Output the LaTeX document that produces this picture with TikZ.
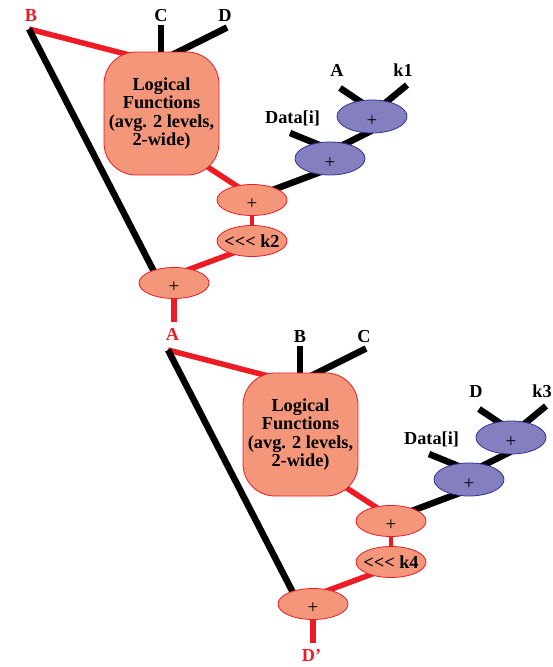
\documentclass[tikz,border=0pt]{standalone}
\usepackage{fontspec}
\setmainfont{Liberation Serif}
\usetikzlibrary{shapes.geometric,calc}
\pgfdeclarelayer{bg}
\pgfsetlayers{bg,main}

\definecolor{wirered}{RGB}{237,28,36}
\definecolor{salmon}{RGB}{244,150,122}
\definecolor{lavender}{RGB}{132,128,192}
\definecolor{navy}{RGB}{46,49,146}

\tikzset{
  lbl/.style={font=\fontsize{18.3}{18.5}\bfseries\selectfont, inner sep=0pt, anchor=base},
  redlbl/.style={lbl, text=wirered},
  redwire/.style={draw=wirered, line width=5.5pt},
  blackwire/.style={draw=black, line width=6.5pt},
  logicbox/.style={draw=wirered, fill=salmon, line width=0.8pt, rounded corners=32pt,
    minimum width=115pt, minimum height=123pt, align=center, inner sep=0pt,
    font=\fontsize{18.3}{18.4}\bfseries\selectfont},
  opshape/.style={ellipse, line width=0.8pt, minimum width=70pt, inner sep=0pt},
  redop/.style={opshape, draw=wirered, fill=salmon, minimum height=31pt},
  blueop/.style={opshape, draw=navy, fill=lavender, minimum height=33pt},
  % the "+" sits a little below the middle of its ellipse
  plusop/.style={label={[inner sep=0pt, yshift=-4.5pt, font=\fontsize{19}{19}\selectfont]center:+}},
}

% three separate "<" glyphs, no ligature
\newcommand\rotl{<\kern0pt<\kern0pt<}

% One round: #1 prefix, #2 shift, #3/#4 inputs of the logic block,
% #5/#6 inputs of the adders, #7 rotation amount, #8 output name
\newcommand\roundstage[8]{%
  \begin{scope}[shift={#2}]
    \node[logicbox] (#1-lf) at (161.5,113.5) {Logical\\Functions\\(avg. 2 levels,\\2-wide)};
    \node[redop, plusop] (#1-mix) at (252,200) {};
    \node[redop] (#1-rot) at (252,241)
      {\makebox[30pt]{\fontsize{18.3}{18.5}\bfseries\selectfont\rotl{} #7}};
    \node[redop, plusop] (#1-out) at (174,283) {};
    \node[blueop, plusop] (#1-addd) at (330,158.5) {};
    \node[blueop, plusop] (#1-addk) at (372,116.5) {};

    \node[lbl] (#1-l3) at (161,21.7) {#3};
    \node[lbl] (#1-l4) at (225,21.7) {#4};
    \node[lbl] (#1-l5) at (337,76) {#5};
    \node[lbl] (#1-l6) at (403,76) {#6};
    \node[lbl] (#1-ld) at (292.5,123) {Data[i]};
    \node[redlbl] (#1-lout) at (172.5,340) {#8};

    \coordinate (#1-bpt) at (29,29);
    \coordinate (#1-in3) at (161,25);
    \coordinate (#1-in4) at (227,27.5);
    \coordinate (#1-in5) at (340,88);
    \coordinate (#1-in6) at (407,85);
    \coordinate (#1-ind) at (290,133);
    \coordinate (#1-outpt) at (174,322);

    \begin{pgfonlayer}{bg}
      \draw[redwire] (#1-bpt) -- ($(#1-lf)+(-24.5,-56.5)$);
      \draw[blackwire] (#1-bpt) -- ($(#1-out)+(-16.7,-5)$);
      \draw[blackwire] (#1-in3) -- ($(#1-lf)+(-0.5,-55)$);
      \draw[blackwire] (#1-in4) -- ($(#1-lf)+(8.5,-57.5)$);
      \draw[redwire] ($(#1-lf)+(28.5,42)$) -- ($(#1-mix)+(0,-4)$);
      \draw[blackwire] ($(#1-mix)+(0,-2.3)$) -- ($(#1-addd)+(0,10)$);
      \draw[blackwire] ($(#1-addd)+(5,-9.5)$) -- ($(#1-addk)+(0,14)$);
      \draw[blackwire] (#1-ind) -- ($(#1-addd)+(-2,-10)$);
      \draw[blackwire] (#1-in5) -- ($(#1-addk)+(-3,-9)$);
      \draw[blackwire] (#1-in6) -- ($(#1-addk)+(3,-5)$);
      \draw[redwire, line width=4.8pt] (#1-mix) -- (#1-rot);
      \draw[redwire] ($(#1-rot)+(0,5)$) -- ($(#1-out)+(0,-8)$);
      \draw[redwire] (#1-out) -- (#1-outpt);
    \end{pgfonlayer}
  \end{scope}%
}

\begin{document}
\begin{tikzpicture}[x=1pt,y=-1pt]
  \useasboundingbox (0,0) rectangle (553,667);
  \node[redlbl] (bin) at (31,21.7) {B};
  \roundstage{r1}{(0,0)}{C}{D}{A}{k1}{k2}{A}
  \roundstage{r2}{(139,321)}{B}{C}{D}{k3}{k4}{D’}
\end{tikzpicture}
\end{document}
